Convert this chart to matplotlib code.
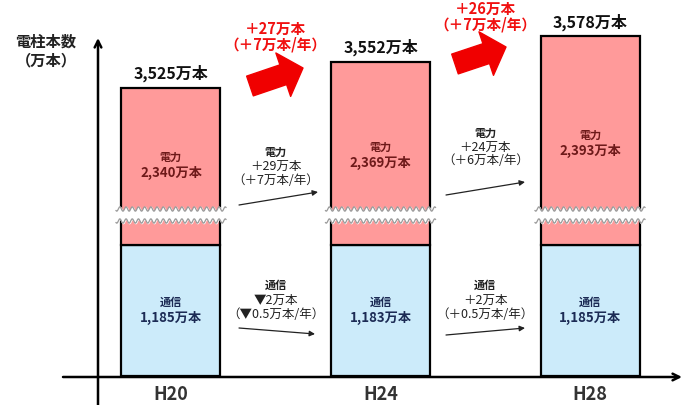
import numpy as np
import matplotlib.pyplot as plt

plt.rcParams['font.family'] = ['Noto Sans CJK JP', 'DejaVu Sans']

# data (万本)
years = ['H20', 'H24', 'H28']
power = [2340, 2369, 2393]   # 電力
comm = [1185, 1183, 1185]    # 通信
span = 4                     # years between surveys

total = [p + c for p, c in zip(power, comm)]
x = np.arange(len(years))

W, H = 684, 405


def fy(ypx):
    # pixel row (from top) -> axes fraction (axes fills the figure)
    return (H - ypx) / H


def fp(xpx, ypx):
    # pixel (from top) -> figure pixels
    return (xpx, H - ypx)


# broken value axis: compressed between the comm top and the totals
knots_v = [-1000, 0, 1185, 3500, 3800]
knots_f = [-1000, 0, 131, 264, 264 + 300 * 0.97]


def fwd(v):
    return np.interp(v, knots_v, knots_f)


def inv(f):
    return np.interp(f, knots_f, knots_v)


fig = plt.figure(figsize=(W / 100, H / 100), dpi=100)
ax = fig.add_axes([0, 0, 1, 1])
ax.set_yscale('function', functions=(fwd, inv))
ax.set_xlim(-171 / 209.5, (W - 171) / 209.5)
ax.set_ylim(inv(-29), inv(376))
ax.set_axis_off()

bw = 99 / 209.5
ax.bar(x, comm, width=bw, color='#CCEBFA', edgecolor='black', lw=1.6, zorder=2)
ax.bar(x, power, bottom=comm, width=bw, color='#FF9A9A', edgecolor='black', lw=1.6, zorder=2)

# wavy break band across each bar
tr = ax.get_xaxis_transform()
half = 55 / 209.5
for xi in x:
    xs = np.linspace(xi - half, xi + half, 200)
    wave = 2.2 * np.sin((xs - xi) * 209.5 * 2 * np.pi / 6.2)
    top = fy(209 + wave)
    bot = fy(221 + wave)
    ax.fill_between(xs, bot, top, transform=tr, color='white', zorder=3)
    ax.plot(xs, top, transform=tr, color='#9a9a9a', lw=0.9, zorder=4)
    ax.plot(xs, bot, transform=tr, color='#9a9a9a', lw=0.9, zorder=4)

# totals above bars
for xi, t in zip(x, total):
    ax.annotate(f'{t:,}万本', (xi, t), xytext=(0, 4), textcoords='offset points',
                ha='center', va='bottom', fontsize=11.5, fontweight='bold', color='#111')

# labels inside bars
power_y = [157, 147, 135]
for xi, p, yy in zip(x, power, power_y):
    ax.text(xi, fy(yy), '電力', transform=tr, ha='center', va='center',
            fontsize=8, fontweight='bold', color='#6E1A1A', zorder=5)
    ax.text(xi, fy(yy + 16), f'{p:,}万本', transform=tr, ha='center', va='center',
            fontsize=9.5, fontweight='bold', color='#6E1A1A', zorder=5)
for xi, c in zip(x, comm):
    ax.text(xi, fy(302), '通信', transform=tr, ha='center', va='center',
            fontsize=8, fontweight='bold', color='#1C2B55', zorder=5)
    ax.text(xi, fy(318), f'{c:,}万本', transform=tr, ha='center', va='center',
            fontsize=9.5, fontweight='bold', color='#1C2B55', zorder=5)


def fmt_change(d):
    sign = '＋' if d >= 0 else '▼'
    return f'{sign}{abs(d)}万本'


def fmt_rate(d):
    sign = '＋' if d >= 0 else '▼'
    r = abs(d) / span
    s = f'{r:.1f}' if r < 1 else str(int(r + 0.5))
    return f'（{sign}{s}万本/年）'


# change annotations between bars
power_txt_y = [152, 133]
power_arrows = [((239, 205), (318, 192)), ((446, 195), (525, 182))]
comm_arrows = [((239, 328), (315, 334)), ((446, 335), (525, 328))]
red_txt_y = [29, 9]
red_arrows = [((250, 86), (303, 68)), ((455, 64), (506, 47))]

for i in range(len(years) - 1):
    xm = (x[i] + x[i + 1]) / 2
    dp = power[i + 1] - power[i]
    dc = comm[i + 1] - comm[i]
    dt = total[i + 1] - total[i]

    y0 = power_txt_y[i]
    ax.text(xm, fy(y0), '電力', transform=tr, ha='center', va='center',
            fontsize=8, fontweight='bold', color='#222')
    ax.text(xm, fy(y0 + 14), fmt_change(dp), transform=tr, ha='center', va='center',
            fontsize=9, color='#222')
    ax.text(xm, fy(y0 + 28), fmt_rate(dp), transform=tr, ha='center', va='center',
            fontsize=9, color='#222')

    ax.text(xm, fy(285), '通信', transform=tr, ha='center', va='center',
            fontsize=8, fontweight='bold', color='#222')
    ax.text(xm, fy(300), fmt_change(dc), transform=tr, ha='center', va='center',
            fontsize=9, color='#222')
    ax.text(xm, fy(315), fmt_rate(dc), transform=tr, ha='center', va='center',
            fontsize=9, color='#222')

    for a, b in (power_arrows[i], comm_arrows[i]):
        ax.annotate('', xy=fp(*b), xytext=fp(*a), xycoords='figure pixels',
                    textcoords='figure pixels',
                    arrowprops=dict(arrowstyle='-|>', lw=0.9, color='#222',
                                    mutation_scale=8, shrinkA=0, shrinkB=0))

    # overall change (red)
    yr = red_txt_y[i]
    ax.text(xm, fy(yr), fmt_change(dt), transform=tr, ha='center', va='center',
            fontsize=10.5, fontweight='bold', color='#F01010')
    ax.text(xm, fy(yr + 15), fmt_rate(dt), transform=tr, ha='center', va='center',
            fontsize=10.5, fontweight='bold', color='#F01010')
    a, b = red_arrows[i]
    ax.annotate('', xy=fp(*b), xytext=fp(*a), xycoords='figure pixels',
                textcoords='figure pixels',
                arrowprops=dict(arrowstyle='simple,head_length=1.0,head_width=2.2,tail_width=1.0',
                                color='#F00000', mutation_scale=15, shrinkA=0, shrinkB=0))

# axis arrows
ax.annotate('', xy=fp(98, 38), xytext=fp(98, 405), xycoords='figure pixels',
            textcoords='figure pixels',
            arrowprops=dict(arrowstyle='->', lw=1.8, color='black', mutation_scale=12,
                            shrinkA=0, shrinkB=0))
ax.annotate('', xy=fp(682, 377), xytext=fp(63, 377), xycoords='figure pixels',
            textcoords='figure pixels',
            arrowprops=dict(arrowstyle='->', lw=1.8, color='black', mutation_scale=12,
                            shrinkA=0, shrinkB=0))

fig.text(46 / W, fy(42), '電柱本数', ha='center', va='center',
         fontsize=11, fontweight='bold', color='#222')
fig.text(46 / W, fy(60), '（万本）', ha='center', va='center',
         fontsize=11, fontweight='bold', color='#222')

for xi, lab in zip(x, years):
    ax.text(xi, fy(395), lab, transform=tr, ha='center', va='center',
            fontsize=13, fontweight='bold', color='#333')

fig.savefig('out.png', dpi=100)
